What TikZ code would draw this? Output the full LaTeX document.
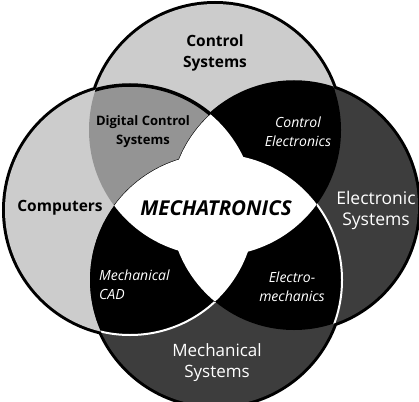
\documentclass[tikz,border=0pt]{standalone}
\usepackage{fontspec}
\setmainfont{Open Sans}
\usepackage{tikz}

% the four discs, in picture units (1 unit = 1pt, y downwards)
\newcommand{\ctrldisc}{(215,130) circle (126pt)}
\newcommand{\compdisc}{(130,210) circle (125pt)}
\newcommand{\elecdisc}{(294,206) circle (124pt)}
\newcommand{\mechdisc}{(216,280) circle (126pt)}
\newcommand{\farframe}{(-30,-30) rectangle (450,440)}

\begin{document}
\begin{tikzpicture}[x=1pt, y=-1pt,
    darklabel/.style={black, align=center, inner sep=0pt},
    lightlabel/.style={white, align=center, inner sep=0pt},
    bigfont/.style={font=\fontsize{17}{21}\selectfont},
    boldfont/.style={font=\fontsize{15.5}{21}\selectfont\bfseries},
    smallfont/.style={font=\fontsize{14}{19}\selectfont\itshape}]
    % Define colors
    \definecolor{lightfield}{gray}{0.80}
    \definecolor{midfield}{gray}{0.58}
    \definecolor{darkfield}{gray}{0.24}

    \useasboundingbox (0,0) rectangle (419,401);

    % Outer rim: thick strokes, the fills below hide their inner half
    \draw[line width=6pt] \ctrldisc \compdisc \elecdisc \mechdisc;

    % Single fields
    \fill[lightfield] \ctrldisc;
    \fill[lightfield] \compdisc;
    \fill[darkfield] \elecdisc;
    \fill[darkfield] \mechdisc;

    % Pairwise overlaps
    \begin{scope}
        \clip \ctrldisc;
        \fill[midfield] \compdisc;
        \fill[black] \elecdisc;
    \end{scope}
    \begin{scope}
        \clip \mechdisc;
        \fill[black] \compdisc;
        \fill[black] \elecdisc;
    \end{scope}

    % Black arcs across the control systems disc
    \begin{scope}
        \clip \ctrldisc;
        \begin{scope}[even odd rule]
            \clip \farframe \elecdisc;
            \draw[line width=3.5pt] \compdisc;
        \end{scope}
        \begin{scope}[even odd rule]
            \clip \farframe \compdisc;
            \draw[line width=3.5pt] \elecdisc;
        \end{scope}
    \end{scope}

    % White arcs in the lower half
    \begin{scope}[even odd rule]
        \clip \elecdisc;
        \clip \farframe \ctrldisc;
        \draw[white, line width=2pt] \mechdisc;
    \end{scope}
    \begin{scope}[even odd rule]
        \clip \mechdisc;
        \clip \farframe \elecdisc;
        \draw[white, line width=2pt] \compdisc;
    \end{scope}

    % Central field: edges first, then the white lenses
    \begin{scope}
        \clip \ctrldisc;
        \draw[line width=1.2pt] \mechdisc;
    \end{scope}
    \begin{scope}
        \clip \mechdisc;
        \draw[line width=1.2pt] \ctrldisc;
    \end{scope}
    \begin{scope}
        \clip \compdisc;
        \draw[line width=1.2pt] \elecdisc;
    \end{scope}
    \begin{scope}
        \clip \elecdisc;
        \draw[line width=1.2pt] \compdisc;
    \end{scope}
    \begin{scope}
        \clip \ctrldisc;
        \fill[white] \mechdisc;
    \end{scope}
    \begin{scope}
        \clip \compdisc;
        \fill[white] \elecdisc;
    \end{scope}

    % Labels of the four discs
    \node[darklabel, boldfont] (ctrl) at (215,53) {Control\\Systems};
    \node[darklabel, boldfont] (comp) at (60,208) {Computers};
    \node[lightlabel, font=\fontsize{17.5}{21}\selectfont] (elec) at (376,210) {Electronic\\Systems};
    \node[lightlabel, bigfont] (mech) at (217,363) {Mechanical\\Systems};

    % Labels of the overlaps
    \node[darklabel, font=\fontsize{13}{19}\selectfont\bfseries] (digi) at (143,132) {Digital Control\\Systems};
    \node[lightlabel, smallfont] (ctel) at (298,132) {Control\\Electronics};
    \node[lightlabel, smallfont, align=left, anchor=west] (mcad) at (99,285) {Mechanical\\CAD};
    \node[lightlabel, smallfont] (emec) at (292,287) {Electro-\\mechanics};

    % Centre
    \node[darklabel, font=\fontsize{20.5}{22}\selectfont\bfseries\itshape] (mtro) at (216,208) {MECHATRONICS};
\end{tikzpicture}
\end{document}
